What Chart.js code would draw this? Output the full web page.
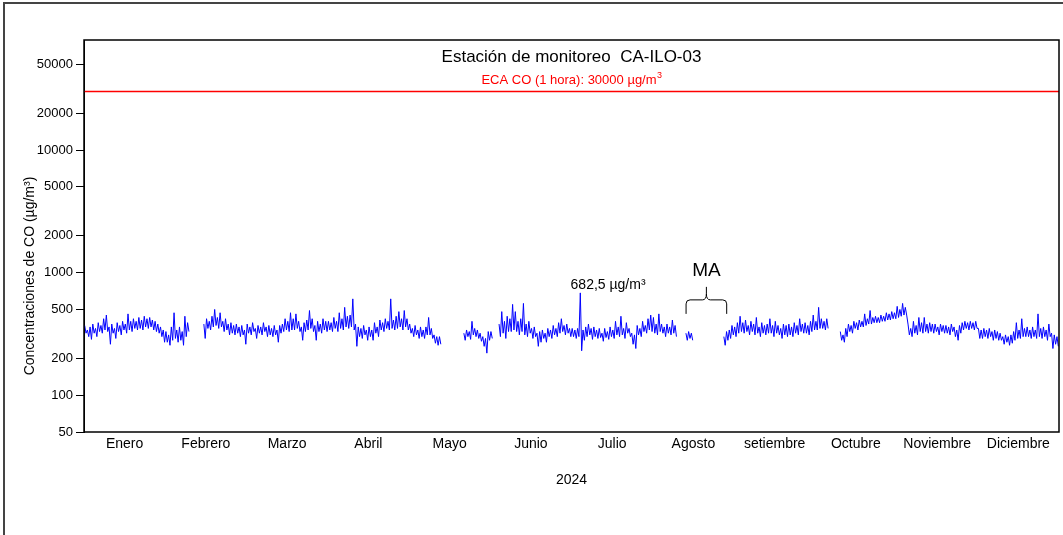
<!DOCTYPE html>
<html>
<head>
<meta charset="utf-8">
<script src="https://cdn.jsdelivr.net/npm/chart.js@4"></script>
<style>
  body { margin: 0; background: #fff; overflow: hidden; }
  #wrap { position: relative; width: 1063px; height: 535px; }
  #frame { position: absolute; left: 3px; top: 2px; width: 1200px; height: 700px;
           border-left: 2px solid #444; border-top: 2px solid #444; }
  #chartCO { position: absolute; left: 0; top: 0; }
</style>
</head>
<body>
<div id="wrap">
  <div id="frame"></div>
  <canvas id="chartCO" width="1063" height="535"></canvas>
</div>
<script>
// month names on the x axis
const months = ["Enero", "Febrero", "Marzo", "Abril", "Mayo", "Junio", "Julio",
  "Agosto", "setiembre", "Octubre", "Noviembre", "Diciembre"];

const yTicks = [50, 100, 200, 500, 1000, 2000, 5000, 10000, 20000, 50000];
const ecaLimit = 30000;
const peakValue = 682.5;

// CO series: per day a high and a low reading (null = no data)
const coEne = [370,320,340,300,360,285,380,320,350,300,390,330,370,320,420,340,450,330,360,260,
  380,320,350,290,390,330,370,310,400,340,380,320,460,340,400,330,420,350,400,340,
  430,350,410,340,440,360,420,350,430,360,410,340,400,330,380,320,360,300,340,270];
const coFeb = [330,270,310,255,360,280,470,290,340,270,360,280,330,255,440,300,390,330,null,null,
  null,null,null,null,null,null,null,null,380,290,420,350,400,340,440,360,500,370,430,350,
  470,360,400,330,420,340,380,310,390,320,370,310,380,320,360,300,370,310,340,260];
const coMar = [380,320,360,310,390,330,350,290,370,320,360,310,390,330,360,300,370,310,350,300,
  370,310,340,270,370,320,380,330,420,340,400,330,470,340,420,340,460,350,400,330,
  360,280,390,330,410,340,490,350,420,330,370,280,400,330,380,320,420,340,400,330];
const coAbr = [400,340,390,330,430,350,400,330,470,350,420,340,520,360,440,350,450,360,610,340,
  380,250,360,300,350,290,370,310,340,280,360,300,340,280,390,320,360,300,410,340,
  390,330,420,350,400,340,610,350,410,340,440,350,480,360,420,340,490,360,420,340];
const coMay = [380,320,350,300,370,310,340,290,360,300,340,290,360,310,430,310,350,290,310,265,
  300,255,300,260,null,null,null,null,null,null,null,null,null,null,null,null,null,null,null,null,
  320,280,340,300,330,285,400,310,350,300,340,290,320,275,300,250,290,220,330,280];
const coJun = [330,290,null,null,null,null,380,300,480,320,400,290,440,330,420,330,550,340,480,330,
  400,310,420,330,560,310,380,300,400,320,350,290,360,300,320,250,330,270,340,290,
  320,270,350,300,340,290,370,310,350,300,390,320,420,330,370,310,380,320,350,300];
const coJul = [350,300,340,290,350,300,682.5,230,340,280,360,300,380,310,350,285,360,300,340,290,
  350,295,320,275,350,295,330,285,360,300,340,290,400,310,360,300,440,310,350,290,
  390,320,350,300,320,260,310,240,370,310,350,300,400,330,370,320,420,340,450,330];
const coAgo = [430,320,380,310,460,330,380,320,360,300,380,320,360,310,410,320,370,300,null,null,
  null,null,null,null,320,280,330,290,320,280,null,null,null,null,null,null,null,null,null,null,
  null,null,null,null,null,null,null,null,null,null,null,null,300,255,330,280,340,290,370,310];
const coSep = [360,300,390,320,440,330,390,320,410,330,370,310,400,330,380,310,430,320,360,300,
  390,320,370,310,380,320,420,320,370,300,400,320,370,310,350,290,380,310,370,300,
  380,310,360,300,390,320,370,310,420,330,380,320,390,320,370,310,400,330,450,340];
const coOct = [400,340,520,350,420,350,400,340,420,350,null,null,null,null,null,null,null,null,330,280,
  310,270,350,300,380,330,370,320,400,350,390,340,410,360,400,360,460,370,420,380,
  490,380,430,390,440,390,430,390,450,400,440,400,470,410,460,410,480,420,470,420];
const coNov = [530,430,500,440,560,450,520,450,380,310,350,300,400,320,370,310,430,330,390,320,
  430,330,380,320,390,330,380,320,380,330,360,310,380,330,370,320,370,320,360,310,
  380,330,360,300,340,280,370,320,390,340,400,350,390,340,400,350,390,340,400,350];
const coDic = [350,290,340,290,350,300,340,290,350,300,330,280,340,290,330,280,320,280,300,260,
  310,270,300,255,310,265,330,280,390,290,340,290,420,300,350,300,360,300,340,290,
  360,300,340,290,460,300,350,290,360,300,340,280,380,300,320,240,310,260,300,250];

const coByMonth = [coEne, coFeb, coMar, coAbr, coMay, coJun, coJul, coAgo, coSep, coOct, coNov, coDic];

// x in month units: month m spans [m, m+1]
const coPoints = [];
coByMonth.forEach((arr, m) => {
  arr.forEach((v, i) => {
    coPoints.push({ x: m + (i + 0.5) / arr.length, y: v });
  });
});

Chart.defaults.font.family = "'Liberation Sans', Arial, sans-serif";
Chart.defaults.color = "#000";

const textPlugin = {
  id: "textPlugin",
  afterDraw(chart) {
    const ctx = chart.ctx;
    const a = chart.chartArea;
    const xs = chart.scales.x;
    const ys = chart.scales.y;
    const cx = (a.left + a.right) / 2;
    ctx.save();

    // plot box
    ctx.strokeStyle = "#000";
    ctx.lineWidth = 1.5;
    ctx.strokeRect(a.left, a.top, a.right - a.left, a.bottom - a.top);

    // title
    ctx.fillStyle = "#000";
    ctx.textAlign = "center";
    ctx.textBaseline = "alphabetic";
    ctx.font = "17px 'Liberation Sans', Arial";
    ctx.fillText("Estación de monitoreo  CA-ILO-03", cx, a.top + 22);

    // ECA label with superscript
    ctx.fillStyle = "#ff0000";
    ctx.font = "13px 'Liberation Sans', Arial";
    const eca = "ECA CO (1 hora): 30000 µg/m";
    const w1 = ctx.measureText(eca).width;
    ctx.font = "9px 'Liberation Sans', Arial";
    const w2 = ctx.measureText("3").width;
    const x0 = cx - (w1 + w2) / 2;
    ctx.textAlign = "left";
    ctx.font = "13px 'Liberation Sans', Arial";
    ctx.fillText(eca, x0, a.top + 44);
    ctx.font = "9px 'Liberation Sans', Arial";
    ctx.fillText("3", x0 + w1 + 0.5, a.top + 38);

    // axis titles
    ctx.fillStyle = "#000";
    ctx.textAlign = "center";
    ctx.textBaseline = "middle";
    ctx.font = "14px 'Liberation Sans', Arial";
    ctx.fillText("2024", cx, 480);
    ctx.save();
    ctx.translate(30, (a.top + a.bottom) / 2 + 40);
    ctx.rotate(-Math.PI / 2);
    ctx.fillText("Concentraciones de CO (µg/m³)", 0, 0);
    ctx.restore();

    // peak label
    const py = ys.getPixelForValue(peakValue);
    ctx.font = "14px 'Liberation Sans', Arial";
    ctx.fillText("682,5 µg/m³", xs.getPixelForValue(6.45), py - 8);

    // brace over missing data (MA)
    const bl = xs.getPixelForValue(7.41);
    const br = xs.getPixelForValue(7.91);
    const bm = (bl + br) / 2;
    const by = ys.getPixelForValue(460);
    ctx.strokeStyle = "#000";
    ctx.lineWidth = 1;
    ctx.beginPath();
    ctx.moveTo(bl, by);
    ctx.lineTo(bl, by - 10);
    ctx.quadraticCurveTo(bl, by - 14, bl + 4, by - 14);
    ctx.lineTo(bm - 4, by - 14);
    ctx.quadraticCurveTo(bm, by - 14, bm, by - 20);
    ctx.quadraticCurveTo(bm, by - 14, bm + 4, by - 14);
    ctx.lineTo(br - 4, by - 14);
    ctx.quadraticCurveTo(br, by - 14, br, by - 10);
    ctx.lineTo(br, by);
    ctx.moveTo(bm, by - 20);
    ctx.lineTo(bm, by - 27);
    ctx.stroke();
    ctx.font = "19px 'Liberation Sans', Arial";
    ctx.fillText("MA", bm, by - 43);

    ctx.restore();
  },
};

new Chart(document.getElementById("chartCO"), {
  type: "line",
  data: {
    datasets: [
      {
        data: coPoints,
        borderColor: "#0000ff",
        borderWidth: 1,
        pointRadius: 0,
        tension: 0,
        spanGaps: false,
      },
      {
        data: [{ x: 0, y: ecaLimit }, { x: 12, y: ecaLimit }],
        borderColor: "#ff0000",
        borderWidth: 1.5,
        pointRadius: 0,
      },
    ],
  },
  options: {
    responsive: false,
    animation: false,
    layout: { padding: { top: 40, right: 4, left: 0, bottom: 0 } },
    plugins: {
      legend: { display: false },
      tooltip: { enabled: false },
    },
    scales: {
      x: {
        type: "linear",
        min: 0,
        max: 12,
        grid: { display: false, drawTicks: false },
        border: { display: false },
        afterBuildTicks: (scale) => {
          scale.ticks = months.map((m, i) => ({ value: i + 0.5 }));
        },
        afterFit: (scale) => { scale.height = 103; },
        ticks: {
          autoSkip: false,
          maxRotation: 0,
          padding: 4,
          font: { size: 14 },
          callback: (v, i) => months[i],
        },
      },
      y: {
        type: "logarithmic",
        min: 50,
        max: 79000,
        grid: { drawOnChartArea: false, drawTicks: true, tickLength: 8, color: "#000" },
        border: { display: true, color: "#000" },
        afterBuildTicks: (scale) => {
          scale.ticks = yTicks.map((v) => ({ value: v }));
        },
        afterFit: (scale) => { scale.width = 84; },
        ticks: {
          autoSkip: false,
          padding: 3,
          font: { size: 13 },
          callback: (v) => String(v),
        },
      },
    },
  },
  plugins: [textPlugin],
});
</script>
</body>
</html>
